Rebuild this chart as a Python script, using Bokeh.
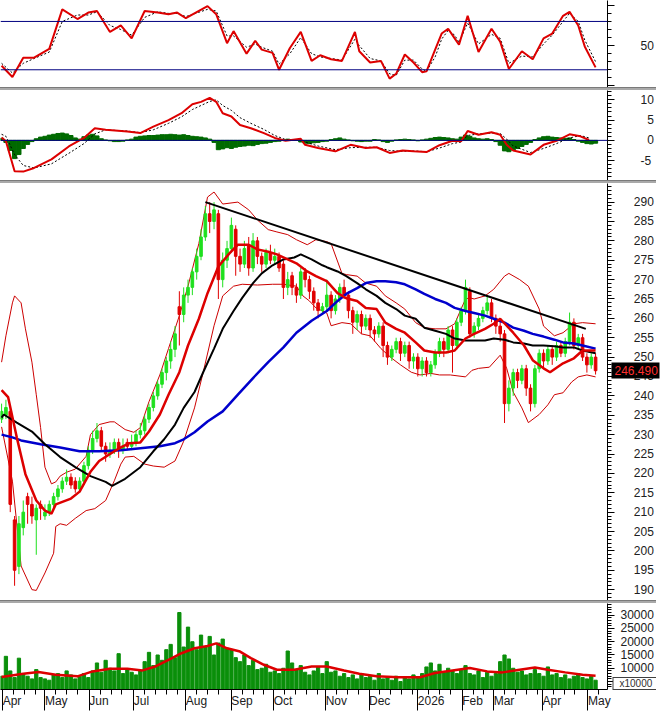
from bokeh.plotting import figure
from bokeh.models import Range1d, FixedTicker, Span, Div, ColumnDataSource, LinearAxis
from bokeh.layouts import column
from bokeh.embed import file_html
from bokeh.resources import INLINE

# ---------------- data (trading-day index on x) ----------------
candle_day = list(range(0, 276, 2))
opens = [234,235,236,208,196,206,214,212,208,212,
         209,210,212,214,216,218,219,218,216,218,
         222,226,229,231,227,225,226,228,226,228,
         227,228,230,231,234,237,240,243,246,249,
         252,263,261,266,268,272,276,281,287,285,
         287,270,275,278,283,276,274,279,273,280,
         276,274,277,275,276,274,268,271,268,266,
         272,270,267,264,262,263,266,262,265,268,
         266,262,259,261,258,260,257,256,258,253,
         250,252,254,251,253,249,250,247,249,246,
         248,251,254,252,257,253,259,262,267,256,
         258,260,262,264,260,258,256,238,242,246,
         244,247,242,238,247,251,249,252,250,253,
         251,254,259,253,255,250,248,250]
highs = [238,239,237,209,209,213,215,214,212,213,
         212,213,215,217,219,221,220,219,219,223,
         227,231,233,232,228,228,229,229,229,229,
         230,231,233,235,238,241,244,247,250,254,
         258,267,268,270,273,278,283,289,290,290,
         288,277,280,286,284,278,280,281,282,281,
         277,278,279,278,277,275,272,272,269,273,
         273,271,268,265,264,270,267,266,269,270,
         267,263,262,262,261,261,258,259,259,254,
         253,255,255,254,254,251,251,250,250,249,
         252,255,255,258,258,260,263,270,268,259,
         261,263,266,265,261,260,257,244,247,247,
         248,248,243,248,252,252,253,253,254,254,
         255,261.5,260,256,256,251,251,251]
lows = [233,234,210,191,194,204,207,207,199,208,
        208,209,211,213,215,217,216,215,215,217,
        221,225,228,226,223,224,225,224,225,226,
        226,227,229,230,233,236,239,242,244,247,
        250,253,259,264,266,270,275,280,282,283,
        265,268,273,277,271,272,273,271,272,274,
        272,273,274,274,272,265,266,266,264,265,
        268,265,262,260,261,262,260,261,264,265,
        260,256,257,256,257,255,254,255,250,248,
        249,251,249,250,247,247,245,245,245,245,
        247,250,250,251,246,252,258,261,255,255,
        257,259,261,259,256,254,233,236,240,242,
        243,240,236,237,246,247,248,248,249,250,
        250,253,252,252,249,246,247,245.5]
closes = [236,237,212,195,207,210,212,209,211,211,
          210,212,214,216,218,219,217,216,218,222,
          226,229,231,227,225,226,228,226,227,227,
          228,230,231,234,237,240,243,246,249,252,
          256,261,266,268,272,276,281,287,285,288,
          270,275,278,284,276,274,278,273,280,276,
          274,277,275,276,273,268,270,268,266,272,
          270,267,264,262,263,266,262,265,268,266,
          262,259,261,258,260,257,256,258,253,250,
          252,254,251,253,249,250,247,249,246,248,
          251,254,252,257,253,259,262,268,256,258,
          260,262,264,260,258,256,238,242,246,244,
          247,242,238,247,251,249,252,250,253,251,
          254,259,253,255,250,248,250,246.49]
volumes = [7000,14500,9000,6500,13800,8000,7000,6000,9500,6500,6000,
           5500,7500,8000,6500,9000,7500,6000,7000,8000,6500,
           9000,12000,8500,13000,10000,9000,15500,8000,9500,8500,
           7500,9000,12500,16000,11000,15000,13000,17000,19000,14000,31000,18000,
           25500,20000,17000,22500,18000,22000,15000,19500,21000,17500,
           17000,14000,12500,15000,11000,13000,9500,10000,11500,8500,
           9000,8000,10000,16500,12000,9500,11000,8500,7500,9000,10500,8000,
           12500,8500,9000,7000,8000,6500,7500,6000,8000,6500,
           7000,5500,8000,6000,6500,5500,7000,5000,6500,6000,7500,
           6500,8000,10500,12000,9000,11500,8500,10000,9000,8000,
           9500,11000,8000,7500,9000,6500,8500,7000,
           8000,12500,15000,13500,10000,8500,9000,7500,8000,9500,8000,
           7000,10500,7500,8000,6500,7500,6000,7000,8000,6500,6000,7000,5500]
macd_hist = [0.5,-0.5,-2.5,-4.5,-3.5,-2.0,-1.0,-0.3,0.4,0.8,
             1.0,1.3,1.5,1.7,1.8,1.6,1.2,0.6,0.3,0.9,
             1.3,1.5,1.1,0.4,0.1,-0.1,-0.3,-0.3,-0.2,0.1,
             0.3,0.8,1.0,1.1,1.2,1.2,1.3,1.4,1.4,1.5,
             1.4,1.3,1.4,1.2,1.0,0.9,0.8,0.6,0.3,-0.5,
             -2.3,-2.1,-1.8,-2.0,-1.7,-1.5,-1.4,-1.2,-1.3,-1.0,
             -0.8,-0.7,-0.5,-0.3,-0.2,0.1,0.3,0.2,0.1,-0.4,
             -0.7,-0.8,-0.6,-0.5,-0.3,-0.2,0.2,0.4,0.6,0.3,
             0.1,-0.1,-0.2,-0.3,-0.2,-0.2,0.2,0.1,-0.3,-0.5,
             -0.2,0.1,0.2,0.3,0.2,0.1,-0.1,0.1,0.3,0.5,
             0.7,0.8,0.7,0.6,0.4,0.3,0.8,1.3,1.0,0.6,
             0.4,0.3,0.4,0.2,-0.3,-1.2,-2.6,-2.8,-2.4,-2.0,
             -1.5,-1.0,-0.5,0.2,0.6,0.9,1.0,0.8,0.7,0.6,
             0.5,0.6,0.2,-0.2,-0.5,-0.8,-0.9,-0.7]

ma20_day = [0,3,7,11,16,20,23,25,32,36,41,45,50,55,59,64,68,73,77,82,86,91,95,100,105,109,114,118,
            123,127,132,136,141,145,150,155,159,164,168,173,177,182,186,191,195,200,205,209,214,218,
            223,227,230,236,241,245,250,253,259,264,268,274]
ma20_val = [241.5,239.7,229.3,219.8,213,210.4,209.6,212,213.5,215.3,220.4,223.2,225,226.7,227.8,228,
            230.8,235.2,240.3,246.1,253,259.9,266.5,273.4,276.7,279,279,277.8,277.2,276.5,275.2,274.2,
            272.1,270.9,269.6,266.5,265.2,264.5,262.7,262.4,258.9,257.3,256.3,253.8,251.7,251.2,251.2,
            251.7,254.8,256,257.3,258.6,259.9,256.3,253,249.2,247.1,246.1,248.4,249.7,251.7,251.7]
ma50_day = [0,1,7,14,20,27,34,41,48,51,57,64,70,75,80,84,89,93,98,102,107,111,116,120,125,130,135,138,
            143,148,150,155,159,164,168,173,177,182,186,191,195,200,205,209,214,218,223,227,232,236,
            241,245,250,255,259,264,268,274]
ma50_val = [234.4,235.2,233.1,230.8,227.5,224.2,221.6,219.3,217.8,216.8,218.6,221.6,225.7,228.8,232.6,
            236.9,241,246.1,252.2,257.3,261.9,265.3,269.1,271.6,273.7,275.2,275.7,276.5,275.2,273.7,
            273.2,272.1,270.9,269.1,267.5,265.8,264,262.4,260.7,259.9,257.6,256.8,256,254.8,254.3,
            254.3,254.3,254.8,254.5,253.8,253.5,253,253,252.8,252.5,252.5,251.7,251]
ma200_day = [0,5,9,18,27,36,45,55,64,73,80,84,89,95,102,109,116,123,130,136,143,150,155,159,164,168,
             173,177,182,186,191,195,200,205,209,214,218,223,227,232,236,241,245,250,255,259,264,268,274]
ma200_val = [230,229.3,228.5,227.5,226.7,225.7,225.7,226,226.5,227,227.8,228.8,230.6,233.4,236,240.3,
             244.6,248.7,252.5,256.3,259.4,261.9,264.5,266.3,267.8,269.1,269.6,269.6,269.3,268.8,
             267.5,266.3,265,264,262.7,261.9,261.4,260.7,259.9,258.9,257.6,256.8,256,255.3,254.5,
             253.8,253.5,253,252.2]
bb_up_day = [0,2,5,6,9,11,14,16,18,20,23,25,27,30,34,39,41,45,50,52,57,61,64,68,73,77,82,86,91,95,98,
             102,109,114,118,123,127,132,136,141,145,150,152,157,159,164,168,173,177,182,186,191,195,
             200,205,209,214,216,218,223,227,232,234,239,243,248,250,255,259,264,268,274]
bb_up_val = [248.7,255.5,264,265.8,264,257.3,248.7,240.3,231.8,221.6,217.3,217.8,219.3,220.3,221.1,
             224.4,230,232.6,233.3,233.3,231.3,230.6,231.8,238.5,245.4,252.2,260.7,268.3,279.3,291.3,
             292.6,289.5,290,288,285.4,282.9,282.3,281.6,280.3,279,280.3,279.8,279.3,271.6,271.3,
             270.9,269.1,268.3,265.8,264,262.4,258.9,257.6,257.3,257.3,258.6,265,265.3,265,265.8,
             267.5,270.9,271.6,270,268.3,262.4,258,255.5,256.3,258.6,258.9,258.6]
bb_lo_day = [0,5,9,14,16,20,24,25,27,30,34,39,43,48,52,55,57,61,66,70,75,80,84,89,93,98,102,107,111,
             118,125,130,136,139,142,145,150,152,157,161,166,170,175,180,184,189,193,198,202,207,214,
             217,220,225,230,233,236,240,243,248,252,255,259,263,266,270,274]
bb_lo_val = [232,218,196.1,190,189.8,194.3,199.4,206.3,207,206.6,208.4,210.4,210.9,213,218.1,222.4,
             224.2,224.4,222.4,221.9,221.6,223.2,228.3,236.9,246.1,258.1,265.8,268.3,268.8,268.6,
             268.8,268.8,268.3,265.8,264.5,262.7,261.4,258.1,258.9,258.6,256,255.5,252.2,249.7,248,
             246.1,245.4,245.8,245.4,245.4,244.9,246.6,247.1,247.4,250.5,247.1,241,236.9,233.1,235.2,
             237.7,240.3,240.8,243.6,244.9,245.4,244.9]
trend_day = [94, 269.5]
trend_val = [290.0, 257.3]

rsi_day = [0,5,10,15,22,28,35,40,44,50,55,60,66,72,77,81,85,95,99,104,107,113,117,120,125,128,133,138,
           143,147,152,157,163,165,170,175,179,182,186,190,194,196,200,203,206,209,211,215,220,226,
           230,234,240,245,250,254,259,262,266,269,274]
rsi_val = [25,11,35,35,46,95,83,91,93,67,75,59,93,91,89,91,84,99,89,53,68,40,56,45,41,20,47,67,31,38,
           33,31,67,43,29,31,9,15,39,29,17,18,45,65,71,59,51,87,42,71,55,21,43,33,59,65,87,92,75,49,23]
rsi_sig = [28,16,28,34,42,80,88,88,92,75,70,63,85,92,90,90,86,95,93,62,62,48,52,48,43,27,40,60,40,36,
           34,32,58,50,34,31,15,13,32,32,21,18,36,58,69,63,54,78,52,64,59,28,37,36,52,63,80,90,80,57,30]
rsi_levels = [80, 20]

macd_day = [0,2,6,10,15,23,31,38,43,48,58,64,70,77,83,88,92,96,99,102,106,110,115,121,126,131,138,140,
            146,154,161,168,173,179,185,190,196,202,208,212,215,220,226,230,233,236,244,250,256,262,
            267,271]
macd_val = [0.7,-0.2,-7.6,-7.7,-6.8,-4.7,-1.5,0.6,3.0,2.6,2.2,1.8,3.4,5.0,6.7,8.9,9.5,10.5,9.5,6.7,5.9,
            3.8,3.0,1.8,0.6,-0.1,0.4,-1.1,-1.9,-2.7,-1.1,-1.9,-1.7,-3.1,-2.5,-2.7,-2.9,-1.2,-0.1,-0.2,
            2.3,1.4,2.0,1.4,-1.1,-2.5,-3.5,-1.1,-0.1,1.5,1.0,0.1]
macd_sig = [1.5,1.0,-3.5,-6.2,-6.8,-5.8,-3.2,-0.8,1.6,2.6,2.3,1.9,2.6,4.2,5.8,7.6,8.6,9.6,10.0,8.6,7.4,
            5.6,4.2,2.7,1.2,0.2,0.2,-0.4,-1.4,-2.3,-1.8,-1.7,-1.7,-2.5,-2.7,-2.6,-2.8,-1.9,-0.8,-0.4,
            1.2,1.6,1.8,1.7,0.3,-1.4,-3.0,-2.0,-0.8,0.6,1.2,0.6]

volma_day = [0,10,17,25,35,42,50,58,65,71,77,83,89,95,99,104,110,115,121,127,135,143,150,158,165,173,
             183,193,200,208,216,224,231,239,246,252,260,268,274]
volma_val = [6730,7960,8590,7590,6960,8820,9820,9820,9190,10680,13170,15670,17530,18390,19390,17530,
             16290,13800,11310,9450,9450,10680,10680,9190,7960,6960,6590,6590,8220,9190,10080,8820,
             8450,9450,10310,9450,8450,7590,7220]

month_start = [0.5, 20, 40.5, 61, 85, 106, 125.5, 149.5, 169.5, 192, 212.5, 227, 249.5, 270.5]
month_names = ["Apr", "May", "Jun", "Jul", "Aug", "Sep", "Oct", "Nov", "Dec", "2026", "Feb", "Mar", "Apr", "May"]
last_price = 246.49
vol_unit_text = "x10000"

# ---------------- styling ----------------
FONT = "Liberation Sans"
FW = 607
GREEN = "#1fe01f"
RED = "#e00000"
FS = "\u2007"   # figure space: keeps right axis labels right-aligned

x_rng = Range1d(-0.5, 279.5)


def pad(v):
    return str(v).rjust(5, FS)


def make_fig(h, y0, y1, ticks, minor, labelled=None, xaxis=False):
    p = figure(frame_width=FW, frame_height=h, x_range=x_rng, y_range=Range1d(y0, y1),
               output_backend="svg", toolbar_location=None, y_axis_location="right",
               x_axis_location="below" if xaxis else None,
               min_border_left=0, min_border_right=0, min_border_top=0, min_border_bottom=0)
    p.grid.visible = False
    p.outline_line_color = None
    p.background_fill_color = "white"
    p.border_fill_color = "white"
    ax = p.yaxis[0]
    ax.ticker = FixedTicker(ticks=ticks, minor_ticks=minor)
    ax.major_label_overrides = {t: (pad(t) if (labelled is None or t in labelled) else "") for t in ticks}
    ax.axis_line_color = "black"
    ax.major_tick_line_color = "black"
    ax.minor_tick_line_color = "black"
    ax.major_tick_out = 7
    ax.major_tick_in = 0
    ax.minor_tick_out = 4
    ax.minor_tick_in = 0
    ax.major_label_standoff = 6
    ax.major_label_text_font = FONT
    ax.major_label_text_font_size = "12px"
    ax.major_label_text_color = "#202020"
    return p


def sep():
    return Div(text="", width=656, height=3, margin=0,
               styles={"background-color": "#a9a9a9", "border-top": "1px solid #7a7a7a"})


# ---- RSI panel ----
p1 = make_fig(87, -2, 106, [0, 50, 100], list(range(0, 101, 10)), labelled=[50])
for lv in rsi_levels:
    p1.add_layout(Span(location=lv, dimension="width", line_color="#000080", line_width=1))
p1.line(rsi_day, rsi_sig, line_color="black", line_width=1, line_dash="2 2")
p1.line(rsi_day, rsi_val, line_color="#dd0000", line_width=2)

# ---- MACD panel ----
p2 = make_fig(90, -9.9, 12.3, [-5, 0, 5, 10], list(range(-9, 13)))
p2.add_layout(Span(location=0, dimension="width", line_color="#000080", line_width=1))
p2.vbar(x=candle_day, top=macd_hist, bottom=0, width=1.9, color="#006a00")
p2.line(macd_day, macd_sig, line_color="black", line_width=1, line_dash="2 2")
p2.line(macd_day, macd_val, line_color="#dd0000", line_width=2)

# ---- Price panel ----
p3 = make_fig(417, 187.2, 294.8, list(range(190, 291, 5)), list(range(188, 295)))
p3.line(bb_up_day, bb_up_val, line_color="#cc0000", line_width=1)
p3.line(bb_lo_day, bb_lo_val, line_color="#cc0000", line_width=1)
colors = [GREEN if c >= o else RED for o, c in zip(opens, closes)]
src = ColumnDataSource(dict(x=candle_day, o=opens, h=highs, l=lows, c=closes, col=colors,
                            top=[max(a, b) for a, b in zip(opens, closes)],
                            bot=[min(a, b) for a, b in zip(opens, closes)]))
p3.segment(x0="x", y0="l", x1="x", y1="h", color="col", line_width=1, source=src)
p3.vbar(x="x", top="top", bottom="bot", width=1.2, fill_color="col", line_color="col", source=src)
p3.line(ma200_day, ma200_val, line_color="#0000cc", line_width=2.5)
p3.line(ma50_day, ma50_val, line_color="black", line_width=2)
p3.line(ma20_day, ma20_val, line_color="#dd0000", line_width=2.5)
p3.line(trend_day, trend_val, line_color="black", line_width=2)
# last-price tag: a second right axis whose single (thick) tick forms the black box
tag = LinearAxis(ticker=FixedTicker(ticks=[last_price], minor_ticks=[]),
                 major_label_overrides={last_price: f"{last_price:.3f}"},
                 axis_line_color=None, major_tick_line_color="black", major_tick_line_width=16,
                 major_tick_in=45, major_tick_out=3, minor_tick_in=0, minor_tick_out=0,
                 major_label_standoff=-45, major_label_text_color="#ff3030",
                 major_label_text_font=FONT, major_label_text_font_size="12px")
p3.add_layout(tag, "right")

# ---- Volume panel ----
p4 = make_fig(86, 2000, 34400, list(range(5000, 30001, 5000)), list(range(3000, 34001, 1000)),
              xaxis=True)
p4.min_border_bottom = 22
p4.vbar(x=candle_day, top=volumes, bottom=0, width=1.5, color="#0a8f0a")
p4.line(volma_day, volma_val, line_color="#dd0000", line_width=2.5)
unit_y = 4300
utag = LinearAxis(ticker=FixedTicker(ticks=[unit_y], minor_ticks=[unit_y]),
                  major_label_overrides={unit_y: vol_unit_text}, axis_line_color=None,
                  major_tick_line_color="#404040", major_tick_line_width=13, major_tick_in=44,
                  major_tick_out=0, minor_tick_line_color="white", minor_tick_line_width=11,
                  minor_tick_in=43, minor_tick_out=0, major_label_standoff=-37,
                  major_label_text_font=FONT, major_label_text_font_size="10px",
                  major_label_text_color="#303030")
p4.add_layout(utag, "right")

xa = p4.xaxis[0]
week_ticks = []
for i, ms in enumerate(month_start):
    nxt = month_start[i + 1] if i + 1 < len(month_start) else 279
    k = ms + 5
    while k < nxt - 1.5:
        week_ticks.append(k)
        k += 5
xa.ticker = FixedTicker(ticks=month_start, minor_ticks=week_ticks)
xa.major_label_overrides = {t: nm for t, nm in zip(month_start, month_names)}
xa.major_label_orientation = -0.0001
xa.major_label_standoff = -10
xa.major_label_text_font = FONT
xa.major_label_text_font_size = "12px"
xa.major_label_text_color = "#202020"
xa.axis_line_color = "black"
xa.major_tick_line_color = "black"
xa.minor_tick_line_color = "black"
xa.major_tick_out = 21
xa.major_tick_in = 0
xa.minor_tick_out = 5
xa.minor_tick_in = 0

layout = column(p1, sep(), p2, sep(), p3, sep(), p4, spacing=0)
open("out.html", "w").write(file_html(layout, INLINE))
